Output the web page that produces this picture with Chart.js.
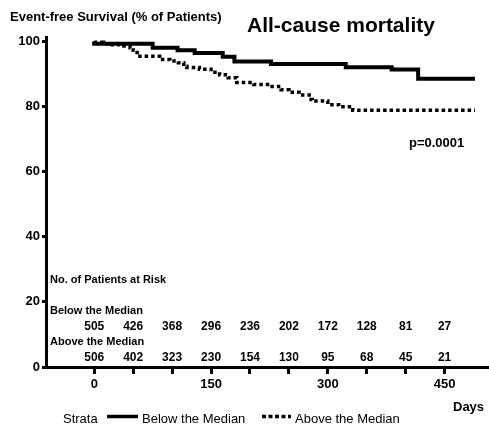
<!DOCTYPE html>
<html>
<head>
<meta charset="utf-8">
<script src="https://cdn.jsdelivr.net/npm/chart.js@4"></script>
<style>
  html, body { margin: 0; padding: 0; background: #fff; }
  #wrap { width: 489px; height: 428px; position: relative; }
</style>
</head>
<body>
<div id="wrap"><canvas id="c" width="489" height="428"></canvas></div>
<script>
// Kaplan-Meier steps: day at which the estimate changes, and survival (%) from that day on
const belowDays     = [0, 75, 107, 129, 165, 180, 227, 323, 382, 416, 425, 489];
const belowSurvival = [100, 99.3, 98.1, 97.3, 96.5, 95.3, 93.9, 93.1, 92.1, 91.4, 88.6, 88.6];

const aboveDays     = [0, 12, 20, 33, 46, 50, 55, 84, 97, 108, 115, 119, 135, 150, 161, 172, 183, 205, 225, 240, 250, 263, 276, 280, 300, 314, 332, 349, 489];
const aboveSurvival = [100, 99.8, 99.3, 99.0, 98.6, 98.1, 97.3, 95.5, 94.5, 94.0, 93.5, 92.4, 92.0, 91.5, 90.6, 89.8, 88.9, 87.4, 86.8, 86.2, 85.2, 84.4, 83.6, 82.2, 81.7, 80.6, 80.0, 78.9, 78.9];

// Numbers at risk
const riskDays  = [0, 50, 100, 150, 200, 250, 300, 350, 400, 450];
const riskBelow = [505, 426, 368, 296, 236, 202, 172, 128, 81, 27];
const riskAbove = [506, 402, 323, 230, 154, 130, 95, 68, 45, 21];

// Axis ticks
const xTickDays  = [0, 50, 100, 150, 200, 250, 300, 350, 400, 450];
const xLabelDays = [0, 150, 300, 450];
const yTicks     = [0, 20, 40, 60, 80, 100];

const FONT = '"Liberation Sans", Arial, Helvetica, sans-serif';
const toPoints = (d, v) => d.map((x, i) => ({ x: x, y: v[i] }));

const annotations = {
  id: 'annotations',
  afterDraw(chart) {
    const ctx = chart.ctx;
    const xs = chart.scales.x;
    ctx.save();
    ctx.fillStyle = '#000';
    ctx.textBaseline = 'alphabetic';

    // Axis title and heading
    ctx.textAlign = 'left';
    ctx.font = 'bold 13px ' + FONT;
    ctx.fillText('Event-free Survival (% of Patients)', 10, 21);
    ctx.font = 'bold 21px ' + FONT;
    ctx.fillText('All-cause mortality', 247, 32);

    // p-value
    ctx.font = 'bold 13px ' + FONT;
    ctx.fillText('p=0.0001', 409, 147);

    // Risk table
    ctx.font = 'bold 11px ' + FONT;
    ctx.fillText('No. of Patients at Risk', 50, 283);
    ctx.fillText('Below the Median', 50, 314);
    ctx.fillText('Above the Median', 50, 345);
    ctx.textAlign = 'center';
    ctx.font = 'bold 12px ' + FONT;
    riskDays.forEach((d, i) => {
      const px = xs.getPixelForValue(d);
      ctx.fillText(String(riskBelow[i]), px, 329.5);
      ctx.fillText(String(riskAbove[i]), px, 360.5);
    });

    // x-axis unit
    ctx.textAlign = 'left';
    ctx.font = 'bold 13px ' + FONT;
    ctx.fillText('Days', 453, 411);

    // Legend
    ctx.font = '13px ' + FONT;
    ctx.fillText('Strata', 63, 423);
    ctx.strokeStyle = '#000';
    ctx.lineWidth = 3.5;
    ctx.beginPath();
    ctx.moveTo(107, 416.5);
    ctx.lineTo(138, 416.5);
    ctx.stroke();
    ctx.fillText('Below the Median', 142, 423);
    ctx.setLineDash([4, 2.5]);
    ctx.beginPath();
    ctx.moveTo(262, 416.5);
    ctx.lineTo(291, 416.5);
    ctx.stroke();
    ctx.setLineDash([]);
    ctx.fillText('Above the Median', 295, 423);

    ctx.restore();
  }
};

new Chart(document.getElementById('c'), {
  type: 'line',
  data: {
    datasets: [
      {
        label: 'Below the Median',
        data: toPoints(belowDays, belowSurvival),
        borderColor: '#000',
        borderWidth: 4,
        stepped: 'after',
        pointRadius: 0,
        fill: false
      },
      {
        label: 'Above the Median',
        data: toPoints(aboveDays, aboveSurvival),
        borderColor: '#000',
        borderWidth: 3.5,
        borderDash: [3.5, 3],
        stepped: 'after',
        pointRadius: 0,
        fill: false
      }
    ]
  },
  options: {
    responsive: false,
    animation: false,
    devicePixelRatio: 1,
    layout: { padding: { top: 37, left: 0, right: 0, bottom: 0 } },
    plugins: { legend: { display: false }, tooltip: { enabled: false }, title: { display: false } },
    scales: {
      x: {
        type: 'linear',
        min: -62,
        max: 507,
        afterBuildTicks(s) { s.ticks = xTickDays.map(v => ({ value: v })); },
        afterFit(s) { s.height = 61; },
        grid: { drawOnChartArea: false, drawTicks: true, tickLength: 7, tickWidth: 3, tickColor: '#000' },
        border: { display: true, width: 3, color: '#000' },
        ticks: {
          autoSkip: false, maxRotation: 0, padding: 3, color: '#000',
          font: { family: FONT, size: 13, weight: 'bold' },
          callback: (v) => xLabelDays.includes(v) ? String(v) : ''
        }
      },
      y: {
        min: 0,
        max: 101.4,
        afterBuildTicks(s) { s.ticks = yTicks.map(v => ({ value: v })); },
        afterFit(s) { s.width = 46; },
        grid: { drawOnChartArea: false, drawTicks: true, tickLength: 4, tickWidth: 3, tickColor: '#000' },
        border: { display: true, width: 3, color: '#000' },
        ticks: { padding: 2, color: '#000', font: { family: FONT, size: 13, weight: 'bold' } }
      }
    }
  },
  plugins: [annotations]
});
</script>
</body>
</html>
